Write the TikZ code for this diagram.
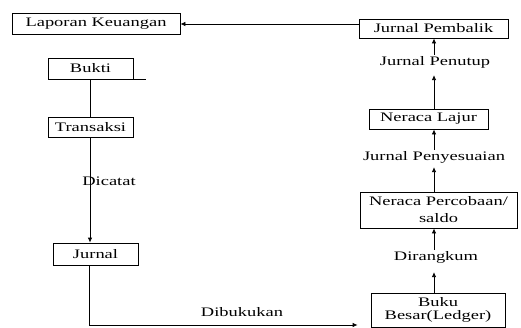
\documentclass[tikz,border=0pt]{standalone}
\usepackage{fontspec}
\setmainfont{Liberation Serif}
\usetikzlibrary{arrows.meta}
\newcommand{\wt}[1]{\scalebox{1.42}[1]{#1}}
\begin{document}
\begin{tikzpicture}[x=1pt,y=-1pt,
  txt/.style={font=\fontsize{13}{15}\selectfont},
  box/.style={txt, draw, line width=0.8pt, inner sep=0pt},
  lbl/.style={txt, inner sep=1pt},
  arr/.style={-{Latex[length=5pt,width=4.5pt]}, line width=0.8pt},
  ln/.style={line width=0.8pt}]
\useasboundingbox (0,0) rectangle (521,327);
% nodes
\node[box, minimum width=168, minimum height=21] (lap) at (96,23.5) {\wt{Laporan Keuangan}};
\node[box, minimum width=149, minimum height=19] (jpb) at (433.5,28.5) {\wt{Jurnal Pembalik}};
\node[lbl] (jpt) at (435,62) {\wt{Jurnal Penutup}};
\node[box, minimum width=119, minimum height=20] (nl) at (428.5,119) {\wt{Neraca Lajur}};
\node[lbl] (jps) at (434,157) {\wt{Jurnal Penyesuaian}};
\node[box, minimum width=157, minimum height=36, align=center,
      font=\fontsize{13}{17}\selectfont] (np) at (438.5,210) {\wt{Neraca Percobaan/}\\\wt{saldo}};
\node[lbl] (dr) at (436,257) {\wt{Dirangkum}};
\node[box, minimum width=134, minimum height=34, align=center,
      font=\fontsize{13}{13}\selectfont] (bb) at (438,310) {\wt{Buku}\\\wt{Besar(Ledger)}};
\node[box, minimum width=85, minimum height=21] (bk) at (90.5,68.5) {\wt{Bukti}};
\node[box, minimum width=85, minimum height=20] (tr) at (90.5,127) {\wt{Transaksi}};
\node[lbl] (dc) at (109,181) {\wt{Dicatat}};
\node[box, minimum width=85, minimum height=22] (jr) at (95.5,254) {\wt{Jurnal}};
\node[lbl] (db) at (242,312) {\wt{Dibukukan}};
% helper coordinates
\coordinate (cx) at (434,0);
\coordinate (lx) at (90,0);
\coordinate (jx) at (89,0);
\coordinate (ty) at (0,24);
\coordinate (by) at (0,325);
% right column
\draw[arr] (jpb.west |- ty) -- (lap.east |- ty);
\draw[arr] (jpt.north -| cx) -- (jpb.south -| cx);
\draw[arr, shorten >=6pt] (nl.north -| cx) -- (jpt.south -| cx);
\draw[arr] (jps.north -| cx) -- (nl.south -| cx);
\draw[arr, shorten >=3pt] (np.north -| cx) -- (jps.south -| cx);
\draw[arr] (dr.north -| cx) -- (np.south -| cx);
\draw[arr, shorten >=8pt] (bb.north -| cx) -- (dr.south -| cx);
% left column
\draw[ln] (bk.south east) -- ++(13,0);
\draw[ln] (bk.south -| lx) -- (tr.north -| lx);
\draw[arr] (tr.south -| lx) -- (jr.north -| lx);
\draw[arr, shorten >=13pt] (jr.south -| jx) |- (bb.west |- by);
\end{tikzpicture}
\end{document}
